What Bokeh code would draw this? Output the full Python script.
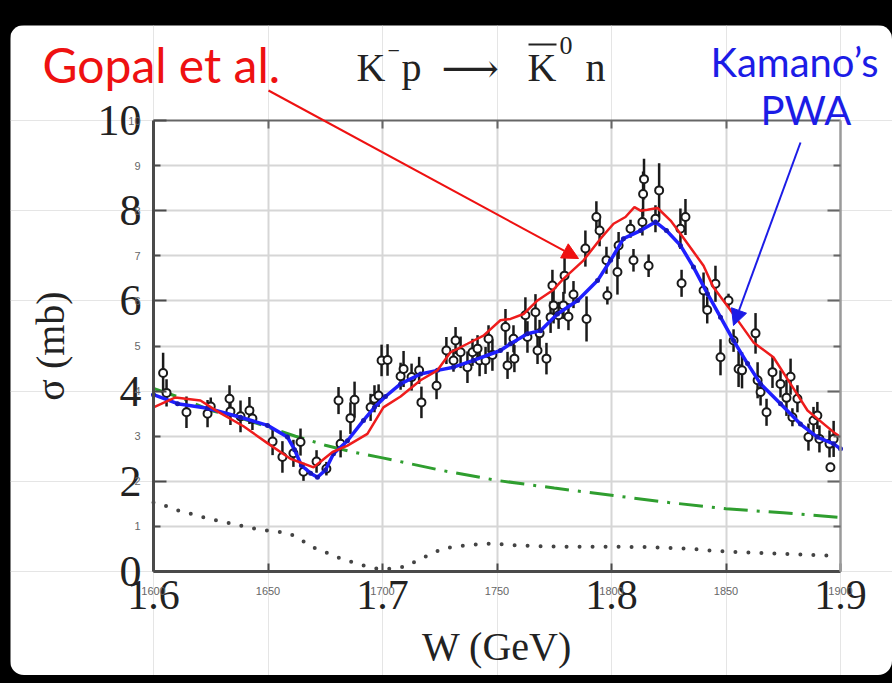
from bokeh.plotting import figure
from bokeh.models import (FixedTicker, LinearAxis, Label, Arrow, NormalHead,
                          ColumnDataSource, Grid, Range1d)
from bokeh.layouts import column
from bokeh.embed import file_html
from bokeh.resources import INLINE

# ---- measured K- p -> K0bar n cross sections: W (MeV), sigma (mb), error (mb)
w_mev = [1604.2, 1605.7, 1614.4, 1623.6, 1625.0, 1633.2, 1633.6, 1638.0, 1641.9, 1643.2,
         1652.0, 1656.3, 1661.1, 1664.2, 1665.5, 1671.2, 1675.5, 1680.8, 1681.7, 1686.0,
         1687.8, 1694.8, 1696.5, 1698.3, 1699.6, 1702.2, 1707.9, 1709.2, 1712.7, 1716.0,
         1717.0, 1723.6, 1727.9, 1731.0, 1731.9, 1734.1, 1737.1, 1739.3, 1741.5, 1742.4,
         1745.0, 1746.3, 1748.0, 1753.7, 1754.6, 1757.2, 1757.6, 1762.4, 1763.3, 1766.8,
         1767.7, 1768.6, 1771.6, 1773.4, 1774.2, 1774.7, 1776.9, 1779.0, 1779.5, 1781.2,
         1783.4, 1788.6, 1789.1, 1793.4, 1794.8, 1797.8, 1798.2, 1802.6, 1803.1, 1808.3,
         1809.6, 1813.5, 1813.8, 1814.2, 1816.2, 1819.2, 1820.8, 1830.1, 1830.6, 1832.3,
         1840.2, 1841.8, 1845.4, 1847.6, 1851.1, 1853.3, 1855.5, 1857.0, 1862.9, 1863.8,
         1865.1, 1867.7, 1870.3, 1873.8, 1876.4, 1878.2, 1879.0, 1881.2, 1886.0, 1888.2,
         1889.9, 1890.8, 1895.2, 1895.6, 1897.0]
sigma_mb = [4.40, 3.96, 3.53, 3.50, 3.66, 3.83, 3.55, 3.44, 3.57, 3.39,
            2.88, 2.54, 2.62, 2.87, 2.21, 2.44, 2.28, 3.79, 2.83, 3.40,
            3.81, 3.64, 3.83, 3.90, 4.68, 4.69, 4.33, 4.49, 4.31, 4.46,
            3.75, 4.12, 4.90, 4.68, 5.12, 4.86, 4.53, 4.86, 4.94, 4.68,
            4.68, 5.16, 4.80, 5.42, 4.57, 5.16, 4.72, 5.68, 5.20, 5.75,
            4.90, 5.28, 4.72, 5.64, 6.34, 5.90, 5.68, 5.90, 6.56, 5.65,
            6.14, 7.16, 5.60, 7.86, 7.56, 6.90, 6.12, 6.64, 7.23, 7.60,
            6.90, 7.75, 8.37, 8.70, 6.78, 7.82, 8.45, 7.60, 6.39, 7.86,
            6.23, 5.80, 6.38, 4.75, 6.01, 5.12, 4.49, 4.46, 5.28, 4.24,
            3.98, 3.53, 4.42, 4.16, 3.85, 4.32, 3.42, 3.83, 2.98, 3.35,
            3.46, 2.94, 2.83, 2.31, 2.94]
sigma_err = [0.45, 0.30, 0.35, 0.30, 0.20, 0.30, 0.30, 0.35, 0.30, 0.25,
             0.30, 0.35, 0.30, 0.30, 0.20, 0.25, 0.15, 0.30, 0.30, 0.35,
             0.40, 0.30, 0.30, 0.25, 0.35, 0.35, 0.30, 0.40, 0.30, 0.30,
             0.35, 0.30, 0.30, 0.25, 0.30, 0.35, 0.35, 0.30, 0.30, 0.35,
             0.30, 0.30, 0.35, 0.40, 0.30, 0.30, 0.30, 0.40, 0.35, 0.40,
             0.30, 0.30, 0.35, 0.35, 0.35, 0.40, 0.30, 0.30, 0.40, 0.30,
             0.30, 0.40, 0.50, 0.35, 0.35, 0.30, 0.20, 0.50, 0.30, 0.20,
             0.25, 0.30, 0.50, 0.45, 0.25, 0.30, 0.60, 0.45, 0.30, 0.40,
             0.40, 0.30, 0.40, 0.40, 0.15, 0.25, 0.40, 0.40, 0.45, 0.40,
             0.30, 0.30, 0.35, 0.30, 0.40, 0.40, 0.20, 0.30, 0.30, 0.30,
             0.30, 0.30, 0.30, 0.10, 0.40]

# ---- Gopal et al. partial-wave result (red)
gopal_w = [1600.0, 1609.6, 1620.5, 1627.9, 1639.3, 1650.2, 1659.8, 1669.9, 1678.2, 1684.7,
           1693.4, 1700.4, 1707.9, 1716.6, 1724.0, 1729.7, 1737.1, 1744.1, 1751.5, 1755.9,
           1761.6, 1767.7, 1774.2, 1779.0, 1787.8, 1795.2, 1800.9, 1806.1, 1810.0, 1812.7,
           1815.7, 1820.1, 1825.8, 1830.1, 1840.2, 1844.5, 1852.0, 1862.0, 1870.7, 1878.2,
           1885.6, 1897.0, 1900.0]
gopal_sigma = [3.64, 3.86, 3.79, 3.55, 3.22, 2.83, 2.50, 2.31, 2.65, 2.79,
               3.05, 3.64, 3.88, 4.24, 4.46, 4.86, 5.05, 5.23, 5.57, 5.60,
               5.71, 6.01, 6.23, 6.49, 6.90, 7.38, 7.71, 7.86, 8.08, 8.00,
               8.02, 8.06, 7.78, 7.49, 6.78, 6.30, 5.79, 5.08, 4.75, 4.16,
               3.57, 3.09, 2.98]

# ---- Kamano's PWA (blue)
pwa_w = [1600.0, 1610.5, 1623.6, 1638.0, 1649.8, 1658.5, 1661.6, 1664.6, 1668.6, 1671.6,
         1675.1, 1678.6, 1684.7, 1691.7, 1696.5, 1701.3, 1707.9, 1716.6, 1724.0, 1731.0,
         1739.7, 1751.5, 1755.9, 1763.3, 1769.0, 1776.4, 1785.2, 1793.9, 1799.6, 1805.2,
         1812.7, 1819.2, 1824.0, 1830.1, 1835.8, 1841.9, 1847.6, 1853.3, 1859.4, 1865.1,
         1873.8, 1882.5, 1889.9, 1897.0, 1900.0]
pwa_sigma = [3.92, 3.72, 3.62, 3.42, 3.24, 2.98, 2.70, 2.35, 2.18, 2.09,
             2.25, 2.61, 2.90, 3.35, 3.64, 3.88, 4.16, 4.38, 4.46, 4.53,
             4.68, 4.90, 5.05, 5.27, 5.34, 5.71, 6.01, 6.45, 6.90, 7.38,
             7.56, 7.75, 7.56, 7.23, 6.75, 6.16, 5.64, 5.12, 4.61, 4.16,
             3.72, 3.27, 2.98, 2.83, 2.72]

# ---- background contribution (green dash-dot)
bg_w = [1600, 1612, 1625, 1637, 1650, 1662, 1675, 1687, 1700, 1725,
        1750, 1775, 1800, 1825, 1850, 1875, 1900]
bg_sigma = [4.06, 3.85, 3.57, 3.42, 3.20, 3.00, 2.80, 2.65, 2.52, 2.25,
            2.02, 1.85, 1.69, 1.53, 1.39, 1.30, 1.20]

# ---- dotted component
dot_w = [1600, 1607, 1612, 1618, 1624, 1630, 1636, 1642, 1648, 1653,
         1659, 1664, 1669, 1675, 1680, 1686, 1692, 1698, 1704, 1710,
         1715, 1721, 1726, 1732, 1738, 1744, 1750, 1762, 1780, 1800,
         1817, 1835, 1847, 1865, 1880, 1896]
dot_sigma = [1.53, 1.43, 1.33, 1.26, 1.17, 1.11, 1.04, 0.97, 0.92, 0.89,
             0.85, 0.72, 0.55, 0.43, 0.32, 0.22, 0.13, 0.06, 0.06, 0.11,
             0.24, 0.38, 0.50, 0.56, 0.58, 0.62, 0.61, 0.57, 0.55, 0.55,
             0.54, 0.50, 0.45, 0.41, 0.38, 0.35]

# ---- tick labels
x_ticks_small = [1600, 1650, 1700, 1750, 1800, 1850, 1900]
x_labels_small = ["1600", "1650", "1700", "1750", "1800", "1850", "1900"]
x_ticks_big = [1600, 1700, 1800, 1900]
x_labels_big = ["1.6", "1.7", "1.8", "1.9"]
y_ticks_small = [1, 2, 3, 4, 5, 6, 7, 8, 9, 10]
y_labels_small = ["1", "2", "3", "4", "5", "6", "7", "8", "9", "10"]
y_ticks_big = [0, 2, 4, 6, 8, 10]
y_labels_big = ["0", "2", "4", "6", "8", "10"]
y_ticks_odd = [1, 3, 5, 7, 9]
y_ticks_even = [2, 4, 6, 8]
x_ticks_half = [1650, 1750, 1850]
x_ticks_inner = [1650, 1700, 1750, 1800, 1850]
y_grid = [1, 2, 3, 4, 5, 6, 7, 8, 9]

# ---- geometry: the plotting frame spans the whole canvas; the axes box sits inside it
W, H = 882, 650
BL, BR, BT, BB = 143, 830, 95, 546          # axes box edges, canvas pixels
X0, X1, Y0, Y1 = 1600, 1900, 0, 10
PX_X = (BR - BL) / (X1 - X0)
PX_Y = (BB - BT) / (Y1 - Y0)


def to_data(cx, cy):
    """Canvas pixel position -> data coordinates (used for annotations)."""
    return X0 + (cx - BL) / PX_X, Y1 - (cy - BT) / PX_Y


SERIF = "Liberation Serif"
INK = "#222222"
DARK = "#4a4a4a"
GRID = "#d6d6d6"

p = figure(width=W, height=H,
           x_range=Range1d(X0 - BL / PX_X, X1 + (W - BR) / PX_X),
           y_range=Range1d(Y0 - (H - BB) / PX_Y, Y1 + BT / PX_Y),
           x_axis_location=None, y_axis_location=None,
           output_backend="svg", toolbar_location=None,
           min_border=0, background_fill_color="white", border_fill_color="white")
p.outline_line_color = None
p.margin = (25, 0, 8, 10)
p.styles = {"border-radius": "14px", "overflow": "hidden"}

# grid lines limited to the axes box
if "cross_bounds" in Grid.properties():
    p.add_layout(Grid(dimension=0, ticker=FixedTicker(ticks=x_ticks_inner),
                      bounds=(X0, X1), cross_bounds=(Y0, Y1),
                      grid_line_color=GRID, grid_line_width=2))
    p.add_layout(Grid(dimension=1, ticker=FixedTicker(ticks=y_grid),
                      bounds=(Y0, Y1), cross_bounds=(X0, X1),
                      grid_line_color=GRID, grid_line_width=2))
else:
    p.segment(x0=x_ticks_inner, y0=[Y0] * len(x_ticks_inner),
              x1=x_ticks_inner, y1=[Y1] * len(x_ticks_inner),
              line_color=GRID, line_width=2, level="underlay")
    p.segment(x0=[X0] * len(y_grid), y0=y_grid, x1=[X1] * len(y_grid), y1=y_grid,
              line_color=GRID, line_width=2, level="underlay")

# bottom axis: large GeV labels, short ticks at the half-hundreds
xa = LinearAxis(fixed_location=Y0, bounds=(X0, X1),
                ticker=FixedTicker(ticks=x_ticks_big, minor_ticks=x_ticks_half),
                major_label_overrides=dict(zip(x_ticks_big, x_labels_big)),
                major_tick_in=8, major_tick_out=0, minor_tick_in=8, minor_tick_out=0,
                axis_line_color=DARK, axis_line_width=3,
                major_tick_line_color=DARK, major_tick_line_width=2,
                minor_tick_line_color=DARK, minor_tick_line_width=2,
                major_label_text_font=SERIF, major_label_text_font_size="42px",
                major_label_text_color=INK, major_label_standoff=9,
                axis_label="W (GeV)", axis_label_text_font=SERIF,
                axis_label_text_font_size="40px", axis_label_text_font_style="normal",
                axis_label_text_color=INK, axis_label_standoff=12)
p.add_layout(xa, "below")

# left axis: large labels, long ticks at even values, short at odd
ya = LinearAxis(fixed_location=X0, bounds=(Y0, Y1),
                ticker=FixedTicker(ticks=y_ticks_big, minor_ticks=y_ticks_odd),
                major_label_overrides=dict(zip(y_ticks_big, y_labels_big)),
                major_tick_in=13, major_tick_out=0, minor_tick_in=7, minor_tick_out=0,
                axis_line_color=DARK, axis_line_width=3,
                major_tick_line_color=DARK, major_tick_line_width=2,
                minor_tick_line_color=DARK, minor_tick_line_width=2,
                major_label_text_font=SERIF, major_label_text_font_size="44px",
                major_label_text_color=INK, major_label_standoff=12,
                axis_label="σ (mb)", axis_label_text_font=SERIF,
                axis_label_text_font_size="40px", axis_label_text_font_style="normal",
                axis_label_text_color=INK, axis_label_standoff=22)
p.add_layout(ya, "left")

# top and right sides of the box: tick marks only (no labels)
top = LinearAxis(fixed_location=Y1, bounds=(X0, X1),
                 ticker=FixedTicker(ticks=[], minor_ticks=x_ticks_inner),
                 major_tick_in=0, major_tick_out=0, minor_tick_in=8, minor_tick_out=0,
                 axis_line_color="#666666", axis_line_width=2,
                 minor_tick_line_color="#666666", minor_tick_line_width=2)
p.add_layout(top, "above")
right_long = LinearAxis(fixed_location=X1, bounds=(Y0, Y1),
                        ticker=FixedTicker(ticks=[], minor_ticks=y_ticks_even),
                        major_tick_in=0, major_tick_out=0, minor_tick_in=13, minor_tick_out=0,
                        axis_line_color="#9a9a9a", axis_line_width=2,
                        minor_tick_line_color="#666666", minor_tick_line_width=2)
p.add_layout(right_long, "right")
right_short = LinearAxis(fixed_location=X1, bounds=(Y0, Y1),
                         ticker=FixedTicker(ticks=[], minor_ticks=y_ticks_odd),
                         major_tick_in=0, major_tick_out=0, minor_tick_in=7, minor_tick_out=0,
                         axis_line_color="#9a9a9a", axis_line_width=2,
                         minor_tick_line_color="#666666", minor_tick_line_width=2)
p.add_layout(right_short, "right")

# small MeV / mb tick labels next to the box
for t, lab in zip(x_ticks_small, x_labels_small):
    p.add_layout(Label(x=t, y=Y0 - 19 / PX_Y, text=lab, text_align="center",
                       text_baseline="middle", text_font="Liberation Sans",
                       text_font_size="11px", text_color="#666666"))
for t, lab in zip(y_ticks_small, y_labels_small):
    p.add_layout(Label(x=X0 - 13 / PX_X, y=t, text=lab, text_align="right",
                       text_baseline="middle", text_font="Liberation Sans",
                       text_font_size="11px", text_color="#666666"))

# curves
p.line(bg_w, bg_sigma, line_color="#2f9e2f", line_width=3, line_dash="24 9 3 9")
p.line(dot_w, dot_sigma, line_color="#444444", line_width=4, line_dash="0 13", line_cap="round")

# data with error bars
src = ColumnDataSource(dict(w=w_mev, s=sigma_mb,
                            lo=[s - e for s, e in zip(sigma_mb, sigma_err)],
                            hi=[s + e for s, e in zip(sigma_mb, sigma_err)]))
p.segment(x0="w", y0="lo", x1="w", y1="hi", source=src, line_color="#1a1a1a", line_width=2.5)
p.scatter("w", "s", source=src, marker="circle", size=8, fill_color="white",
          line_color="#1a1a1a", line_width=2)

p.line(pwa_w, pwa_sigma, line_color="#1f1fff", line_width=3.5)
p.scatter(pwa_w, pwa_sigma, marker="circle", size=5, fill_color="#1818b8", line_color=None)
p.line(gopal_w, gopal_sigma, line_color="#ee1c1c", line_width=2.5)


def add_text(cx, cy, text, size, color, font, align="left"):
    """Place a text with its vertical middle at canvas pixel (cx, cy)."""
    x, y = to_data(cx, cy)
    p.add_layout(Label(x=x, y=y, text=text, text_font=font, text_font_size=size,
                       text_color=color, text_align=align, text_baseline="middle"))


# legends with pointer arrows
add_text(32, 39, "Gopal et al.", "48px", "#ee1111", "Lato")
add_text(700, 36, "Kamano’s", "40px", "#1c1ce6", "Lato")
add_text(750, 84, "PWA", "40px", "#1c1ce6", "Lato")

rx0, ry0 = to_data(258, 65)
rx1, ry1 = to_data(568, 233)
p.add_layout(Arrow(end=NormalHead(size=16, fill_color="#ee1111", line_color="#ee1111"),
                   x_start=rx0, y_start=ry0, x_end=rx1, y_end=ry1,
                   line_color="#ee1111", line_width=2))
bx0, by0 = to_data(790, 117)
bx1, by1 = to_data(723, 300)
p.add_layout(Arrow(end=NormalHead(size=16, fill_color="#1c1ce6", line_color="#1c1ce6"),
                   x_start=bx0, y_start=by0, x_end=bx1, y_end=by1,
                   line_color="#1c1ce6", line_width=2))

# reaction title: K^- p -> Kbar^0 n
add_text(346, 42, "K", "40px", INK, SERIF)
add_text(377, 25, "−", "22px", INK, SERIF)
add_text(391, 42, "p", "40px", INK, SERIF)
add_text(431, 42, "⟶", "40px", INK, "DejaVu Serif")
add_text(517, 42, "K", "40px", INK, SERIF)
add_text(549, 20, "0", "26px", INK, SERIF)
add_text(575, 42, "n", "40px", INK, SERIF)
kx0, ky = to_data(518, 19)
kx1, _ = to_data(546, 19)
p.add_layout(Arrow(start=None, end=None, x_start=kx0, y_start=ky, x_end=kx1, y_end=ky,
                   line_color=INK, line_width=2))

page = column(p, width=892, height=683, styles={"background-color": "black"})

open("out.html", "w").write(file_html(page, INLINE))
